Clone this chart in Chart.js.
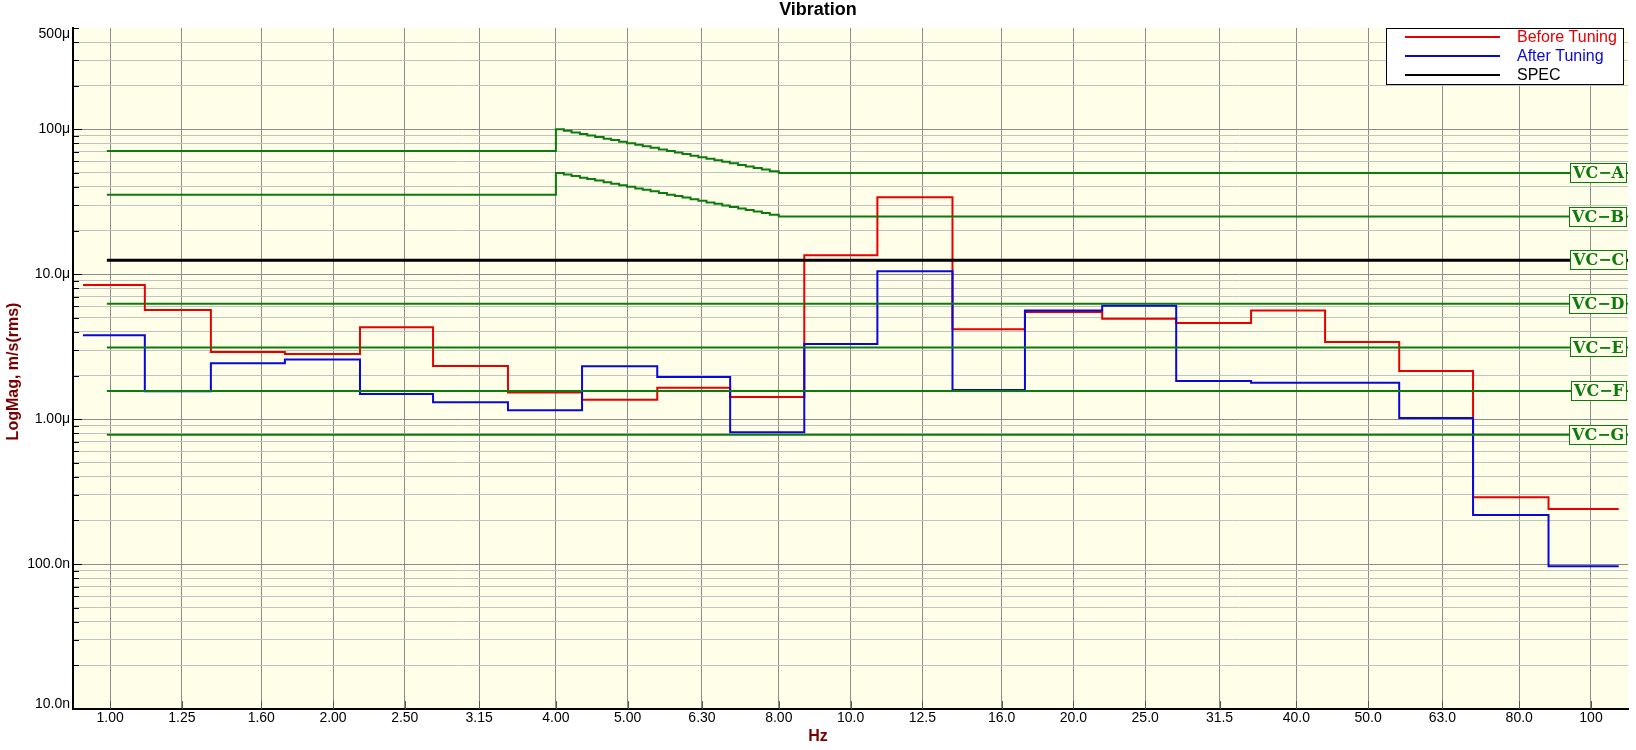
<!DOCTYPE html>
<html>
<head>
<meta charset="utf-8">
<script src="https://cdn.jsdelivr.net/npm/chart.js@4.4.1/dist/chart.umd.min.js"></script>
<style>
  html, body { margin: 0; padding: 0; background: #ffffff; }
  canvas { display: block; }
</style>
</head>
<body>
<canvas id="chart" width="1636" height="750"></canvas>
<script>
// ---------- DATA (velocity in µm/s rms, frequency in Hz) ----------
const chartTitle = 'Vibration';
const xAxisTitle = 'Hz';
const yAxisTitle = 'LogMag, m/s(rms)';

// nominal 1/3-octave labels on the x axis
const xTickValues = [1.00, 1.25, 1.60, 2.00, 2.50, 3.15, 4.00, 5.00, 6.30, 8.00, 10.0, 12.5, 16.0, 20.0, 25.0, 31.5, 40.0, 50.0, 63.0, 80.0, 100];
const xTickLabels = ['1.00', '1.25', '1.60', '2.00', '2.50', '3.15', '4.00', '5.00', '6.30', '8.00', '10.0', '12.5', '16.0', '20.0', '25.0', '31.5', '40.0', '50.0', '63.0', '80.0', '100'];

// band edges (Hz) where the measured spectra step
const bandEdgesHz = [0.919, 1.114, 1.368, 1.722, 2.175, 2.730, 3.446, 4.339, 5.482, 6.877, 8.660, 10.87, 13.73, 17.20, 21.87, 27.53, 34.75, 43.74, 55.08, 69.30, 87.63, 109.0];

// one value per band (µm/s)
const beforeTuning = [8.44, 5.67, 2.91, 2.82, 4.31, 2.33, 1.53, 1.36, 1.65, 1.42, 13.5, 34.0, 4.17, 5.48, 4.92, 4.61, 5.61, 3.41, 2.15, 0.289, 0.240];
const afterTuning  = [3.79, 1.56, 2.43, 2.58, 1.49, 1.31, 1.15, 2.32, 1.95, 0.813, 3.30, 10.5, 1.59, 5.62, 6.05, 1.83, 1.78, 1.78, 1.02, 0.218, 0.0966];

// SPEC level (µm/s)
const specLevel = 12.5;

// VC criterion curves
const vcStartHz = 0.99;
const vcEndHz = 112.2;
const vcNames  = ['VC\u2212A', 'VC\u2212B', 'VC\u2212C', 'VC\u2212D', 'VC\u2212E', 'VC\u2212F', 'VC\u2212G'];
const vcLevels = [50, 25, 12.5, 6.25, 3.125, 1.5625, 0.78];
const vcALow = 70.7;
const vcBLow = 35.4;
const vcStepHz = [4.00, 4.10, 4.20, 4.31, 4.41, 4.52, 4.64, 4.75, 4.87, 4.99, 5.12, 5.24, 5.37, 5.51, 5.65, 5.79, 5.93, 6.08, 6.23, 6.39, 6.55, 6.71, 6.87, 7.05, 7.22, 7.40, 7.59, 7.78, 8.00];
const vcAStep  = [100, 97.6, 95.2, 92.8, 90.7, 88.5, 86.2, 84.2, 82.1, 80.2, 78.1, 76.3, 74.5, 72.6, 70.8, 69.1, 67.5, 65.8, 64.2, 62.6, 61.1, 59.6, 58.2, 56.7, 55.4, 54.1, 52.7, 51.4, 50];
const vcBStep  = [50, 48.8, 47.6, 46.4, 45.4, 44.3, 43.1, 42.1, 41.1, 40.1, 39.1, 38.2, 37.3, 36.3, 35.4, 34.6, 33.8, 32.9, 32.1, 31.3, 30.6, 29.8, 29.1, 28.4, 27.7, 27.1, 26.4, 25.7, 25];

// y axis labels
const yLabelValues = [0.01, 0.1, 1, 10, 100, 500];
const yLabelTexts  = ['10.0n', '100.0n', '1.00\u03bc', '10.0\u03bc', '100\u03bc', '500\u03bc'];

const legendLabels = ['Before Tuning', 'After Tuning', 'SPEC'];

// ---------- STYLE ----------
const RED = '#e60000';
const BLUE = '#0808d8';
const BLACK = '#000000';
const GREEN = '#0c7a0c';
const PLOT_BG = '#fefee9';
const AXIS_TITLE = '#7a0000';
const GRID_MAJOR = '#8c8c8c';
const GRID_MINOR = '#c2c2c2';
const SANS = '"Liberation Sans", Arial, sans-serif';

// ---------- BUILD ----------
function stepSeries(edges, values) {
  const pts = values.map((v, i) => ({ x: edges[i], y: v }));
  pts.push({ x: edges[values.length], y: values[values.length - 1] });
  return pts;
}
function vcCurve(low, stepHz, stepVals, high) {
  const pts = [{ x: vcStartHz, y: low }];
  stepHz.forEach((f, i) => pts.push({ x: f, y: stepVals[i] }));
  pts.push({ x: vcEndHz, y: high });
  return pts;
}
function flatLine(level) {
  return [{ x: vcStartHz, y: level }, { x: vcEndHz, y: level }];
}

// y grid values: 1..9 per decade, then 100..500
const yGridValues = [];
for (let e = -2; e <= 1; e++) {
  for (let m = 1; m <= 9; m++) yGridValues.push(parseFloat((m * Math.pow(10, e)).toPrecision(3)));
}
[100, 200, 300, 400, 500].forEach(v => yGridValues.push(v));

function isDecade(v) {
  const l = Math.log10(v);
  return Math.abs(l - Math.round(l)) < 1e-6;
}

const datasets = [
  { label: 'SPEC', data: flatLine(specLevel), borderColor: BLACK, borderWidth: 3, stepped: true, order: 0 },
  { label: 'VC-A', data: vcCurve(vcALow, vcStepHz, vcAStep, vcLevels[0]), borderColor: GREEN, borderWidth: 2, stepped: true, order: 0 },
  { label: 'VC-B', data: vcCurve(vcBLow, vcStepHz, vcBStep, vcLevels[1]), borderColor: GREEN, borderWidth: 2, stepped: true, order: 0 },
  { label: 'VC-D', data: flatLine(vcLevels[3]), borderColor: GREEN, borderWidth: 2, stepped: true, order: 0 },
  { label: 'VC-E', data: flatLine(vcLevels[4]), borderColor: GREEN, borderWidth: 2, stepped: true, order: 0 },
  { label: 'VC-F', data: flatLine(vcLevels[5]), borderColor: GREEN, borderWidth: 2, stepped: true, order: 0 },
  { label: 'VC-G', data: flatLine(vcLevels[6]), borderColor: GREEN, borderWidth: 2, stepped: true, order: 0 },
  { label: legendLabels[1], data: stepSeries(bandEdgesHz, afterTuning), borderColor: BLUE, borderWidth: 2, stepped: true, order: 1 },
  { label: legendLabels[0], data: stepSeries(bandEdgesHz, beforeTuning), borderColor: RED, borderWidth: 2, stepped: true, order: 2 }
];

const bgPlugin = {
  id: 'plotBg',
  beforeDraw(chart) {
    const { ctx, chartArea: a } = chart;
    ctx.save();
    ctx.fillStyle = '#ffffff';
    ctx.fillRect(0, 0, chart.width, chart.height);
    ctx.fillStyle = PLOT_BG;
    ctx.fillRect(a.left, a.top, a.right - a.left, a.bottom - a.top);
    ctx.restore();
  }
};

const decorPlugin = {
  id: 'decor',
  afterDraw(chart) {
    const { ctx, chartArea: a } = chart;
    const xs = chart.scales.x, ys = chart.scales.y;
    ctx.save();

    // y tick labels (kept inside the plot's vertical extent at the ends)
    ctx.fillStyle = '#000';
    ctx.font = '14px ' + SANS;
    ctx.textAlign = 'right';
    ctx.textBaseline = 'middle';
    yLabelValues.forEach((v, i) => {
      let y = ys.getPixelForValue(v);
      y = Math.min(Math.max(y, a.top + 6), a.bottom - 5);
      ctx.fillText(yLabelTexts[i], a.left - 3, y);
    });

    // inward tick marks on y axis
    ctx.strokeStyle = '#000';
    ctx.lineWidth = 1;
    yGridValues.forEach(v => {
      const y = Math.round(ys.getPixelForValue(v)) + 0.5;
      const len = isDecade(v) ? 9 : 6;
      ctx.beginPath(); ctx.moveTo(a.left, y); ctx.lineTo(a.left + len, y); ctx.stroke();
    });
    // inward tick marks on x axis
    ctx.strokeStyle = '#555';
    xTickValues.forEach(v => {
      const x = Math.round(xs.getPixelForValue(v)) + 0.5;
      ctx.beginPath(); ctx.moveTo(x, a.bottom); ctx.lineTo(x, a.bottom - 8); ctx.stroke();
    });

    // VC labels
    ctx.font = 'bold 16px "DejaVu Serif", serif';
    ctx.textBaseline = 'middle';
    ctx.textAlign = 'left';
    vcNames.forEach((name, i) => {
      const y = ys.getPixelForValue(vcLevels[i]);
      const w = ctx.measureText(name).width;
      const bw = Math.round(w + 6), bh = 20;
      const right = a.right - 1;
      const left = right - bw;
      const top = Math.round(y - bh / 2);
      ctx.fillStyle = PLOT_BG;
      ctx.fillRect(left, top, bw, bh);
      ctx.strokeStyle = GREEN;
      ctx.lineWidth = 1;
      ctx.strokeRect(left + 0.5, top + 0.5, bw - 1, bh - 1);
      ctx.fillStyle = GREEN;
      ctx.fillText(name, left + 3, y + 1);
    });

    // legend
    const lw = 238, lh = 57;
    const lr = a.right - 4;
    const ll = lr - lw, lt = a.top;
    ctx.fillStyle = '#ffffff';
    ctx.fillRect(ll, lt, lw, lh);
    ctx.strokeStyle = '#000';
    ctx.lineWidth = 1;
    ctx.strokeRect(ll + 0.5, lt + 0.5, lw - 1, lh - 1);
    const legendColors = [RED, BLUE, BLACK];
    ctx.font = '16px ' + SANS;
    ctx.textBaseline = 'middle';
    legendLabels.forEach((lab, i) => {
      const y = lt + 9 + 19 * i;
      ctx.strokeStyle = legendColors[i];
      ctx.lineWidth = 2;
      ctx.beginPath(); ctx.moveTo(ll + 19, y); ctx.lineTo(ll + 114, y); ctx.stroke();
      ctx.fillStyle = legendColors[i];
      ctx.fillText(lab, ll + 131, y + 1);
    });

    // title
    ctx.fillStyle = '#000';
    ctx.font = 'bold 18px ' + SANS;
    ctx.textAlign = 'center';
    ctx.textBaseline = 'middle';
    ctx.fillText(chartTitle, chart.width / 2, 10);

    // axis titles
    ctx.fillStyle = AXIS_TITLE;
    ctx.font = 'bold 16px ' + SANS;
    ctx.fillText(xAxisTitle, chart.width / 2, 737);
    ctx.save();
    ctx.translate(14, (a.top + a.bottom) / 2 + 3);
    ctx.rotate(-Math.PI / 2);
    ctx.fillText(yAxisTitle, 0, 0);
    ctx.restore();

    ctx.restore();
  }
};

new Chart(document.getElementById('chart').getContext('2d'), {
  type: 'line',
  data: { datasets },
  options: {
    responsive: false,
    animation: false,
    devicePixelRatio: 1,
    layout: { padding: { top: 28, right: 8, left: 0, bottom: 0 } },
    plugins: { legend: { display: false }, title: { display: false }, tooltip: { enabled: false } },
    elements: { point: { radius: 0 }, line: { tension: 0, borderCapStyle: 'butt', borderJoinStyle: 'miter', fill: false } },
    scales: {
      x: {
        type: 'logarithmic',
        min: 0.891,
        max: 112.2,
        afterBuildTicks: s => { s.ticks = xTickValues.map(v => ({ value: v })); },
        afterFit: s => { s.height = 41; },
        ticks: {
          autoSkip: false, maxRotation: 0, minRotation: 0, padding: 1, color: '#000',
          font: { family: SANS, size: 14 },
          callback: (v, i) => xTickLabels[i]
        },
        grid: { color: GRID_MAJOR, lineWidth: 1, drawTicks: false },
        border: { display: true, color: '#000', width: 2 }
      },
      y: {
        type: 'logarithmic',
        min: 0.01,
        max: 500,
        afterBuildTicks: s => { s.ticks = yGridValues.map(v => ({ value: v })); },
        afterFit: s => { s.width = 73; },
        ticks: {
          autoSkip: false, padding: 3, color: '#000',
          font: { family: SANS, size: 14 },
          callback: () => ''
        },
        grid: {
          color: c => {
            if (!c.tick) return GRID_MINOR;
            if (c.tick.value >= 500) return 'rgba(0,0,0,0)';
            return isDecade(c.tick.value) ? GRID_MAJOR : GRID_MINOR;
          },
          lineWidth: 1, drawTicks: false
        },
        border: { display: true, color: '#000', width: 2 }
      }
    }
  },
  plugins: [bgPlugin, decorPlugin]
});
</script>
</body>
</html>
